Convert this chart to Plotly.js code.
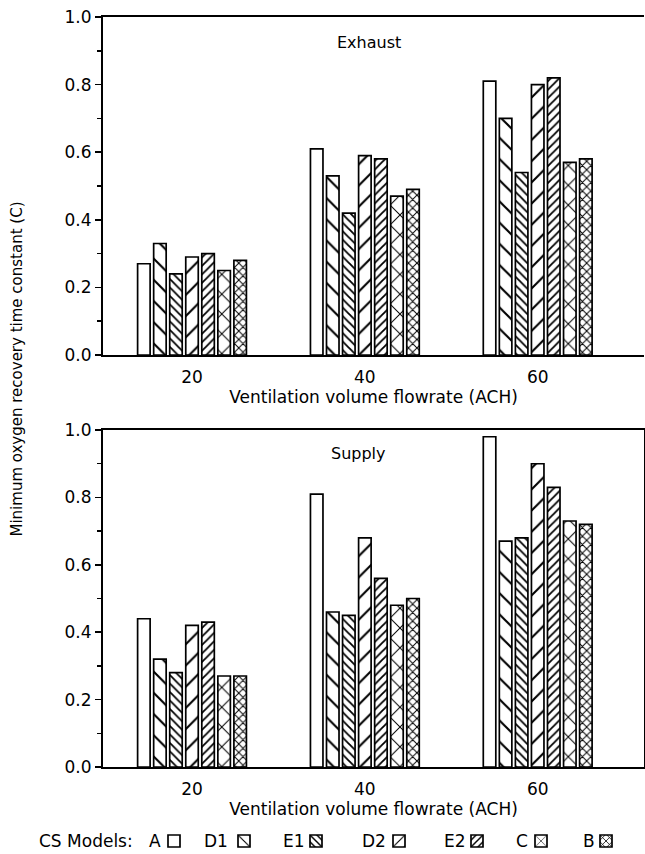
<!DOCTYPE html>
<html>
<head>
<meta charset="utf-8">
<script src="https://cdn.plot.ly/plotly-3.0.1.min.js"></script>
<style>html,body{margin:0;padding:0;background:#fff;}</style>
</head>
<body>
<div id="chart" style="width:645px;height:854px;"></div>
<script>
// ---- data ----
const flowrates = [20, 40, 60];
const models = ['A', 'D1', 'E1', 'D2', 'E2', 'C', 'B'];

const exhaustA  = [0.27, 0.61, 0.81];
const exhaustD1 = [0.33, 0.53, 0.70];
const exhaustE1 = [0.24, 0.42, 0.54];
const exhaustD2 = [0.29, 0.59, 0.80];
const exhaustE2 = [0.30, 0.58, 0.82];
const exhaustC  = [0.25, 0.47, 0.57];
const exhaustB  = [0.28, 0.49, 0.58];

const supplyA  = [0.44, 0.81, 0.98];
const supplyD1 = [0.32, 0.46, 0.67];
const supplyE1 = [0.28, 0.45, 0.68];
const supplyD2 = [0.42, 0.68, 0.90];
const supplyE2 = [0.43, 0.56, 0.83];
const supplyC  = [0.27, 0.48, 0.73];
const supplyB  = [0.27, 0.50, 0.72];

const yTickVals = [0, 0.2, 0.4, 0.6, 0.8, 1.0];
const yTickText = ['0.0', '0.2', '0.4', '0.6', '0.8', '1.0'];
const xTickVals = [20, 40, 60];
const xTickText = ['20', '40', '60'];

const exhaustSeries = [exhaustA, exhaustD1, exhaustE1, exhaustD2, exhaustE2, exhaustC, exhaustB];
const supplySeries = [supplyA, supplyD1, supplyE1, supplyD2, supplyE2, supplyC, supplyB];

// ---- styles ----
const patterns = [
  {shape: '', fgcolor: 'black', bgcolor: 'white'},
  {shape: '\\', size: 15, solidity: 0.14, fgcolor: 'black', bgcolor: 'white'},
  {shape: '\\', size: 6, solidity: 0.3, fgcolor: 'black', bgcolor: 'white'},
  {shape: '/', size: 15, solidity: 0.14, fgcolor: 'black', bgcolor: 'white'},
  {shape: '/', size: 6, solidity: 0.3, fgcolor: 'black', bgcolor: 'white'},
  {shape: 'x', size: 14, solidity: 0.14, fgcolor: 'black', bgcolor: 'white'},
  {shape: 'x', size: 6, solidity: 0.3, fgcolor: 'black', bgcolor: 'white'}
];

const FONT = 'DejaVu Sans, sans-serif';
const W = 645, H = 854, ML = 103, MR = 1;

// legend layout (pixels): label right edge and key position for each model
const legendLabelRight = [163, 230, 307, 388, 468, 530, 597];
const legendKeyCenter  = [174, 244, 316, 399, 477, 541, 606];
const legendY = 841;
const SWATCH_OFFSET = 20; // distance from legend left edge to key centre

const legendIds = models.map((m, i) => i === 0 ? 'legend' : 'legend' + (i + 1));

const traces = [];
models.forEach((m, i) => {
  traces.push({
    type: 'bar', x: flowrates, y: exhaustSeries[i], name: '',
    xaxis: 'x', yaxis: 'y', legend: legendIds[i], showlegend: true,
    marker: {color: 'white', line: {color: 'black', width: 1.7}, pattern: patterns[i]},
    hoverinfo: 'x+y'
  });
  traces.push({
    type: 'bar', x: flowrates, y: supplySeries[i], name: '',
    xaxis: 'x2', yaxis: 'y2', showlegend: false,
    marker: {color: 'white', line: {color: 'black', width: 1.7}, pattern: patterns[i]},
    hoverinfo: 'x+y'
  });
});

const xCommon = {
  range: [9.7, 72.3], tickvals: xTickVals, ticktext: xTickText, ticks: '',
  ticklabelstandoff: 6,
  showline: true, linecolor: 'black', linewidth: 2, mirror: true,
  showgrid: false, zeroline: false,
  tickfont: {family: FONT, size: 17, color: 'black'},
  title: {text: 'Ventilation volume flowrate (ACH)', font: {family: FONT, size: 17, color: 'black'}, standoff: 4}
};
const yCommon = {
  range: [0, 1.0], tickvals: yTickVals, ticktext: yTickText,
  ticks: 'outside', ticklen: 6, tickwidth: 1.5, tickcolor: 'black',
  minor: {dtick: 0.1, ticks: 'outside', ticklen: 4, tickwidth: 1.5, tickcolor: 'black', showgrid: false},
  showline: true, linecolor: 'black', linewidth: 2,
  showgrid: false, zeroline: false,
  tickfont: {family: FONT, size: 17, color: 'black'}
};

const layout = {
  width: W, height: H,
  margin: {l: ML, r: MR, t: 17, b: 87},
  paper_bgcolor: 'white', plot_bgcolor: 'white',
  barmode: 'group', bargap: 0.35, bargroupgap: 0.22,
  font: {family: FONT, color: 'black'},
  xaxis: Object.assign({}, xCommon, {anchor: 'y'}),
  yaxis: Object.assign({}, yCommon, {domain: [0.5493, 1], anchor: 'x', mirror: false}),
  xaxis2: Object.assign({}, xCommon, {anchor: 'y2'}),
  yaxis2: Object.assign({}, yCommon, {domain: [0, 0.4493], anchor: 'x2', mirror: true}),
  showlegend: true,
  annotations: [
    {text: 'Exhaust', xref: 'x', yref: 'y', x: 40.5, y: 0.926, showarrow: false,
     font: {family: FONT, size: 16, color: 'black'}},
    {text: 'Supply', xref: 'x2', yref: 'y2', x: 39.3, y: 0.93, showarrow: false,
     font: {family: FONT, size: 16, color: 'black'}},
    {text: 'Minimum oxygen recovery time constant (C)', xref: 'paper', yref: 'paper',
     x: (16 - ML) / (W - ML - MR), y: 0.53, textangle: -90, showarrow: false, xanchor: 'center',
     font: {family: FONT, size: 15, color: 'black'}},
    {text: 'CS Models:', xref: 'paper', yref: 'paper', x: (37 - ML) / (W - ML - MR),
     y: (H - 87 - legendY) / (H - 17 - 87),
     xanchor: 'left', yanchor: 'middle', showarrow: false,
     font: {family: FONT, size: 17, color: 'black'}}
  ]
};

models.forEach((m, i) => {
  layout[legendIds[i]] = {
    xref: 'container', yref: 'container',
    x: (legendKeyCenter[i] - SWATCH_OFFSET) / W, xanchor: 'left',
    y: 1 - legendY / H, yanchor: 'middle',
    orientation: 'h', font: {family: FONT, size: 12, color: 'black'},
    bgcolor: 'rgba(0,0,0,0)', itemwidth: 30
  };
  layout.annotations.push({
    text: m, xref: 'paper', yref: 'paper',
    x: (legendLabelRight[i] - ML) / (W - ML - MR),
    y: (H - 87 - legendY) / (H - 17 - 87),
    xanchor: 'right', yanchor: 'middle', showarrow: false,
    font: {family: FONT, size: 17, color: 'black'}
  });
});

Plotly.newPlot('chart', traces, layout, {displayModeBar: false, staticPlot: true});
</script>
</body>
</html>
